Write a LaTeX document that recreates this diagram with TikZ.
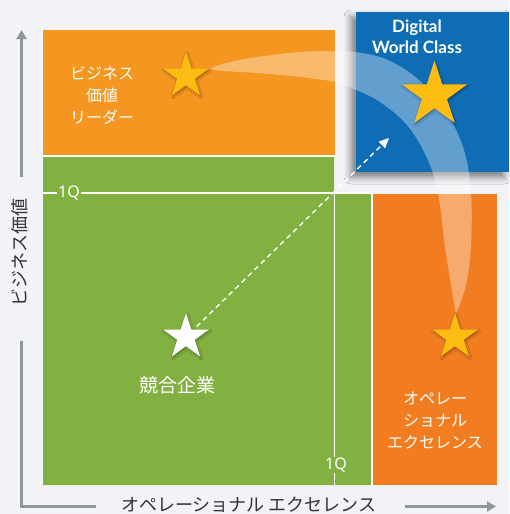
\documentclass[tikz,border=0pt]{standalone}
\usepackage{fontspec}
\setmainfont{Noto Sans}
\newfontfamily\jp{Noto Sans CJK JP}
\newfontfamily\lat{Lato}
\usetikzlibrary{shapes.geometric,arrows.meta,shadows.blur}
\definecolor{bg}{HTML}{F2F3F7}
\definecolor{orgA}{HTML}{F4961F}
\definecolor{orgB}{HTML}{F27D21}
\definecolor{grn}{HTML}{82B141}
\definecolor{blu}{HTML}{0E6DB4}
\definecolor{gold}{HTML}{FDBC11}
\definecolor{axisgray}{HTML}{8E979D}
\definecolor{txt}{HTML}{333333}
\tikzset{
  starnode/.style={star, star points=5, star point ratio=2.618, inner sep=0pt,
    minimum size=#1, draw=none,
    blur shadow={shadow xshift=1pt, shadow yshift=-1.5pt, shadow blur radius=2pt, shadow opacity=35}},
  wline/.style={white, line width=1.3pt},
  qlabel/.style={text=white, font=\fontsize{16}{18}\selectfont, inner sep=1pt},
  wlabel/.style={text=white, align=center, font=\jp\fontsize{16}{22}\selectfont},
  axisline/.style={axisgray, line width=3pt},
  axislabel/.style={text=txt, font=\jp\fontsize{18}{20}\selectfont},
  band/.style={fill=white, fill opacity=0.35},
  dasharrow/.style={white, line width=1.4pt, dash pattern=on 5pt off 4pt,
    -{Triangle[length=10pt,width=9pt]}, shorten <=4pt},
}
\begin{document}
\begin{tikzpicture}[x=1pt,y=-1pt]
\useasboundingbox (0,0) rectangle (509,514);
\fill[bg] (0,0) rectangle (509,514);

% quadrants
\fill[orgA] (43,30) rectangle (335,155);
\fill[white] (43,155) rectangle (335,157);
\fill[grn] (43,157) -- (334,157) -- (334,193) -- (371,193) -- (371,485) -- (43,485) -- cycle;
\fill[white] (371,193) rectangle (373,485);
\fill[orgB] (373,194) rectangle (497,485);

% 1Q lines
\node[qlabel] (q1) at (69,193) {1Q};
\node[qlabel] (q2) at (336,465) {1Q};
\coordinate (hl) at (43,193);
\coordinate (hr) at (371,193);
\coordinate (vt) at (334.3,193);
\coordinate (vb) at (334.3,485);
\draw[wline] (hl) -- (q1.west);
\draw[wline] (q1.east) -- (hr);
\draw[wline] (vt) -- (vt |- q2.north);
\draw[wline] (vb |- q2.south) -- (vb);

% Digital World Class box
\node[fill=blu, minimum width=153pt, minimum height=160pt, inner sep=0pt,
  blur shadow={shadow xshift=-5pt, shadow yshift=-5pt, shadow blur radius=7pt, shadow opacity=50}]
  (dwc) at (432.5,92) {};
\node[text=white, align=center, font=\lat\bfseries\fontsize{17}{21}\selectfont] (dwct) at (417,37) {Digital\\World Class};

% band
\fill[band] plot[smooth, tension=0.6] coordinates {(208,69) (230,62) (257,57) (300,52) (335,51) (362,53) (390,61) (420,81) (447,114) (464,150) (471,193) (471,245) (466,285) (456,314)}
  -- plot[smooth, tension=0.6] coordinates {(456,314) (451,285) (445,247) (438,193) (427,158) (407,125) (380,102) (356,90) (335,82) (300,77) (257,73) (223,71) (208,69)} -- cycle;

% stars
\node[starnode=48pt, fill=gold] (s1) at (186,76) {};
\node[starnode=69pt, fill=gold] (s2) at (434.5,95) {};
\node[starnode=48pt, fill=gold] (s3) at (455,337) {};
\node[starnode=48pt, fill=white] (s4) at (186,337) {};

% dashed arrow
\coordinate (tip) at (389,138);
\draw[dasharrow] (s4) -- (tip);

% labels
\node[wlabel] (l1) at (102,95) {ビジネス\\価値\\リーダー};
\node[wlabel, font=\jp\fontsize{19}{22}\selectfont] (l2) at (177,385) {競合企業};
\node[wlabel] (l3) at (435,421) {オペレー\\ショナル\\エクセレンス};

% axes
\node[axislabel, rotate=90] (ya) at (20,252) {ビジネス価値};
\node[axislabel] (xa) at (249,505) {オペレーショナル エクセレンス};
\coordinate (o) at (21.5,506.5);
\coordinate (ytop) at (21.5,30);
\coordinate (yg1) at (21.5,177);
\coordinate (yg2) at (21.5,341);
\coordinate (xg1) at (96,506.5);
\coordinate (xg2) at (405,506.5);
\coordinate (xend) at (496,506.5);
\draw[axisline] (xg1) -- (o) -- (yg2);
\draw[axisline, -{Triangle[length=9pt,width=10pt]}] (yg1) -- (ytop);
\draw[axisline, -{Triangle[length=9pt,width=10pt]}] (xg2) -- (xend);
\end{tikzpicture}
\end{document}
